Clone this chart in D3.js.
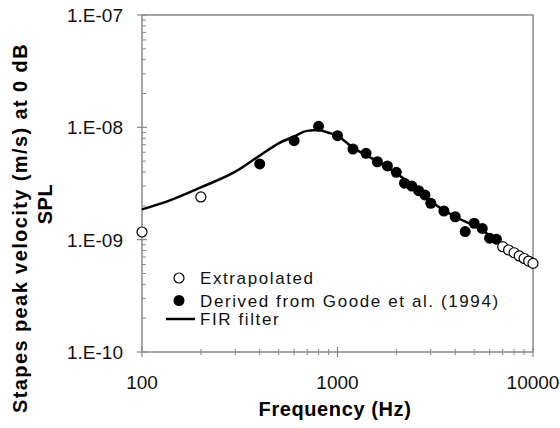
<!DOCTYPE html>
<html>
<head>
<meta charset="utf-8">
<script src="https://cdn.jsdelivr.net/npm/d3@7"></script>
<style>
  body { margin: 0; background: #fff; }
  svg { display: block; font-family: "Liberation Sans", Arial, sans-serif; }
</style>
</head>
<body>
<svg id="chart" width="560" height="428"></svg>
<script>
// extrapolated points (open circles)
const extrapFreq = [100, 200, 7000, 7500, 8000, 8500, 9000, 9500, 10000];
const extrapVel  = [1.17e-9, 2.4e-9, 8.66e-10, 8.09e-10, 7.65e-10, 7.16e-10, 6.8e-10, 6.45e-10, 6.15e-10];

// derived from Goode et al. (filled circles)
const goodeFreq = [400, 600, 800, 1000, 1200, 1400, 1600, 1800, 2000, 2200, 2400, 2600, 2800, 3000, 3500, 4000, 4500, 5000, 5500, 6000, 6500];
const goodeVel  = [4.72e-9, 7.6e-9, 1.02e-8, 8.42e-9, 6.41e-9, 5.87e-9, 4.94e-9, 4.53e-9, 3.98e-9, 3.18e-9, 3.0e-9, 2.73e-9, 2.5e-9, 2.11e-9, 1.8e-9, 1.6e-9, 1.18e-9, 1.4e-9, 1.26e-9, 1.03e-9, 1.01e-9];

// FIR filter curve
const firFreq = [100, 140, 200, 300, 400, 500, 600, 700, 800, 900, 1000, 1200, 1500, 2000, 2500, 3000, 4000, 5000, 6000, 6600];
const firVel  = [1.86e-9, 2.25e-9, 2.92e-9, 4.03e-9, 5.6e-9, 7.2e-9, 8.3e-9, 9.3e-9, 9.45e-9, 8.95e-9, 8.4e-9, 6.6e-9, 5.3e-9, 3.9e-9, 2.9e-9, 2.2e-9, 1.6e-9, 1.33e-9, 1.1e-9, 1.0e-9];

const xTicks = [100, 1000, 10000];
const yTicks = [1e-10, 1e-9, 1e-8, 1e-7];
const yTickLabels = ["1.E-10", "1.E-09", "1.E-08", "1.E-07"];

const legendItems = ["Extrapolated", "Derived from Goode et al. (1994)", "FIR filter"];

const svg = d3.select("#chart");
const mLeft = 142, mRight = 533, mTop = 15, mBottom = 352;

const x = d3.scaleLog().domain([100, 10000]).range([mLeft, mRight]);
const y = d3.scaleLog().domain([1e-10, 1e-7]).range([mBottom, mTop]);

const grey = "#8a8a8a";

// frame
svg.append("rect")
  .attr("x", mLeft).attr("y", mTop)
  .attr("width", mRight - mLeft).attr("height", mBottom - mTop)
  .attr("fill", "none").attr("stroke", grey).attr("stroke-width", 1.5);

// minor ticks
const xMinor = [];
for (let d = 100; d < 10000; d *= 10) for (let k = 2; k <= 9; k++) xMinor.push(d * k);
const yMinor = [];
for (let d = 1e-10; d < 1e-7 * 0.99; d *= 10) for (let k = 2; k <= 9; k++) yMinor.push(d * k);

svg.append("g").selectAll("line").data(xMinor).join("line")
  .attr("x1", d => x(d)).attr("x2", d => x(d))
  .attr("y1", mBottom - 3).attr("y2", mBottom + 3)
  .attr("stroke", grey).attr("stroke-width", 1);
svg.append("g").selectAll("line").data(xTicks).join("line")
  .attr("x1", d => x(d)).attr("x2", d => x(d))
  .attr("y1", mBottom - 5).attr("y2", mBottom + 5)
  .attr("stroke", grey).attr("stroke-width", 1.2);

svg.append("g").selectAll("line").data(yMinor).join("line")
  .attr("x1", mLeft).attr("x2", mLeft + 4)
  .attr("y1", d => y(d)).attr("y2", d => y(d))
  .attr("stroke", grey).attr("stroke-width", 1);
svg.append("g").selectAll("line").data(yTicks).join("line")
  .attr("x1", mLeft - 5).attr("x2", mLeft + 5)
  .attr("y1", d => y(d)).attr("y2", d => y(d))
  .attr("stroke", grey).attr("stroke-width", 1.2);

// tick labels
svg.append("g").selectAll("text").data(xTicks).join("text")
  .attr("x", d => x(d)).attr("y", 389)
  .attr("text-anchor", "middle").attr("font-size", 19).attr("fill", "#111")
  .text(d => d);
svg.append("g").selectAll("text").data(yTicks).join("text")
  .attr("x", 123).attr("y", d => y(d) + 7)
  .attr("text-anchor", "end").attr("font-size", 19).attr("fill", "#111")
  .text((d, i) => yTickLabels[i]);

// axis titles
svg.append("text")
  .attr("x", 335).attr("y", 416)
  .attr("text-anchor", "middle").attr("font-size", 20).attr("font-weight", "bold")
  .attr("letter-spacing", 0.6)
  .text("Frequency (Hz)");
svg.append("text")
  .attr("transform", "translate(27,228) rotate(-90)")
  .attr("text-anchor", "middle").attr("font-size", 20).attr("font-weight", "bold")
  .attr("letter-spacing", 1.4)
  .text("Stapes peak velocity (m/s) at 0 dB");
svg.append("text")
  .attr("transform", "translate(52,204) rotate(-90)")
  .attr("text-anchor", "middle").attr("font-size", 20).attr("font-weight", "bold")
  .attr("letter-spacing", 0.6)
  .text("SPL");

// FIR line
const firData = firFreq.map((f, i) => [f, firVel[i]]);
svg.append("path")
  .datum(firData)
  .attr("fill", "none").attr("stroke", "#000").attr("stroke-width", 2.5)
  .attr("d", d3.line().x(d => x(d[0])).y(d => y(d[1])).curve(d3.curveMonotoneX));

// points
svg.append("g").selectAll("circle").data(goodeFreq).join("circle")
  .attr("cx", d => x(d)).attr("cy", (d, i) => y(goodeVel[i])).attr("r", 5.5)
  .attr("fill", "#000");
svg.append("g").selectAll("circle").data(extrapFreq).join("circle")
  .attr("cx", d => x(d)).attr("cy", (d, i) => y(extrapVel[i])).attr("r", 5)
  .attr("fill", "#fff").attr("stroke", "#000").attr("stroke-width", 1.2);

// legend
const lg = svg.append("g");
const legY = [278, 300.5, 319];
lg.append("circle").attr("cx", 179).attr("cy", legY[0]).attr("r", 5)
  .attr("fill", "#fff").attr("stroke", "#000").attr("stroke-width", 1.2);
lg.append("circle").attr("cx", 179).attr("cy", legY[1]).attr("r", 5.5).attr("fill", "#000");
lg.append("line").attr("x1", 166).attr("x2", 195).attr("y1", legY[2]).attr("y2", legY[2])
  .attr("stroke", "#000").attr("stroke-width", 2.5);
lg.selectAll("text").data(legendItems).join("text")
  .attr("x", 200).attr("y", (d, i) => legY[i] + 6)
  .attr("font-size", 17).attr("letter-spacing", 1.6).attr("fill", "#111")
  .text(d => d);
</script>
</body>
</html>
